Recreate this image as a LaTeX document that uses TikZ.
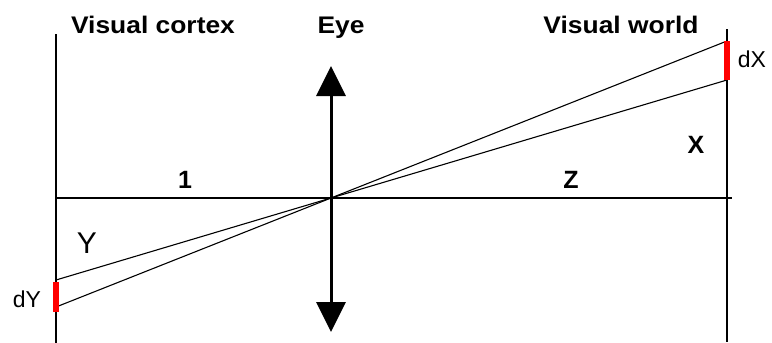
\documentclass[tikz,border=0pt]{standalone}
\usepackage{fontspec}
\setmainfont{Liberation Sans}
\newfontfamily\widesans[FakeStretch=1.1]{Liberation Sans}
\usetikzlibrary{arrows.meta}
\begin{document}
\begin{tikzpicture}[x=1pt,y=-1pt,
  thinline/.style={line width=1.3pt,black},
  lens/.style={line width=3pt,black,{Triangle[width=29pt,length=30pt]}-{Triangle[width=29pt,length=30pt]}},
  ray/.style={line width=1.1pt,black},
  redbar/.style={line width=6pt,red},
  title/.style={font=\widesans\fontsize{24}{26}\selectfont\bfseries,anchor=base,inner sep=0pt},
  lab/.style={font=\fontsize{25}{27}\selectfont\bfseries,anchor=base,inner sep=0pt},
  dlab/.style={font=\fontsize{23}{25}\selectfont,anchor=base,inner sep=0pt}]
\useasboundingbox (0,0) rectangle (772,343);
% coordinates
\coordinate (LT) at (56,34);
\coordinate (LB) at (56,343);
\coordinate (RT) at (727,29);
\coordinate (RB) at (727,342);
\coordinate (AL) at (56,198);
\coordinate (AR) at (732,198);
\coordinate (O) at (331,198);
\coordinate (EU) at (331,66);
\coordinate (ED) at (331,332);
\coordinate (dXt) at (727,41);
\coordinate (dXb) at (727,80);
\coordinate (dYt) at (56,280);
\coordinate (dYb) at (56,307);
\coordinate (dYbt) at (56,282);
\coordinate (dYbb) at (56,312);
% frame lines
\draw[thinline] (LT) -- (LB);
\draw[thinline] (RT) -- (RB);
\draw[thinline] (AL) -- (AR);
% rays
\draw[ray] (dXt) -- (O) -- (dYb);
\draw[ray] (dXb) -- (O) -- (dYt);
% red bars
\draw[redbar] (dXt) -- (dXb);
\draw[redbar] (dYbt) -- (dYbb);
% lens
\draw[lens] (EU) -- (ED);
% labels
\node[title] (tc) at (153,33) {Visual cortex};
\node[title] (te) at (341,33) {Eye};
\node[title] (tw) at (621,33) {Visual world};
\node[lab] (one) at (185,188) {1};
\node[lab] (z) at (571,188) {Z};
\node[lab] (x) at (696,153) {X};
\node[font=\fontsize{30}{32}\selectfont,anchor=base,inner sep=0pt] (y) at (87,253) {Y};
\node[dlab] (dy) at (27,307) {dY};
\node[dlab] (dx) at (752,67) {dX};
\end{tikzpicture}
\end{document}
